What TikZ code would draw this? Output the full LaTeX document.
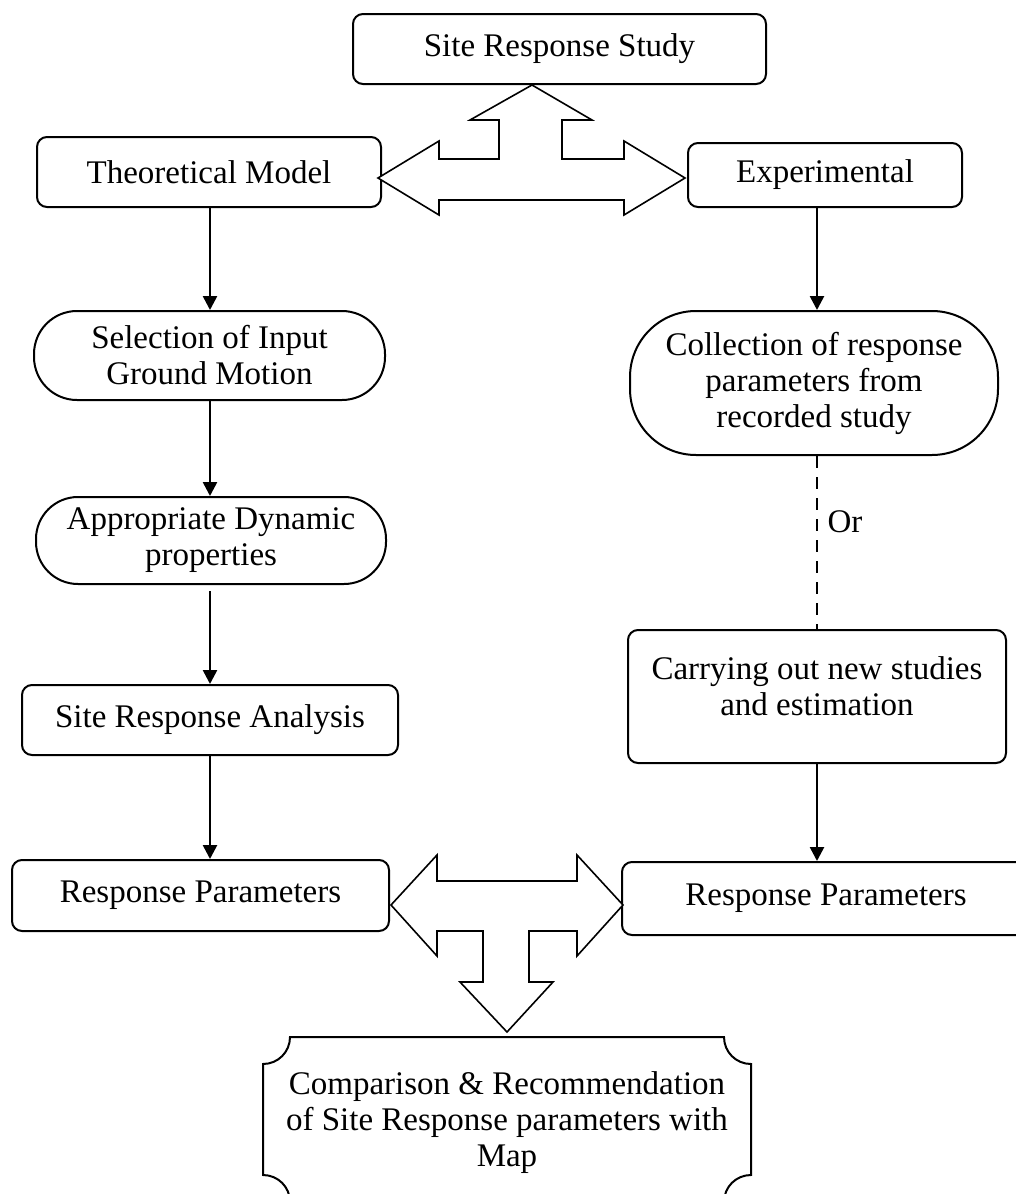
\documentclass[tikz,border=0pt]{standalone}
\usepackage{fontspec}
\setmainfont{Liberation Serif}
\usetikzlibrary{arrows.meta}
\begin{document}
\begin{tikzpicture}[x=0.5pt,y=-0.5pt,
  every node/.style={font=\fontsize{16.5}{18}\selectfont, align=center, inner sep=0pt},
  box/.style={draw, line width=1pt, rounded corners=5pt},
  pill/.style={draw, line width=1pt, rounded corners=#1},
  flow/.style={-{Triangle[length=7pt,width=7pt]}, line width=1.3pt},
  blockarrow/.style={draw, fill=white, line width=0.8pt, line join=miter},
]
\clip (0,0) rectangle (1016,1194);
\useasboundingbox (0,0) rectangle (1016,1194);

% top level
\node[box, minimum width=206.5pt, minimum height=35pt] (srs) at (559.5,49) {Site Response Study};
\node[box, minimum width=172pt, minimum height=35pt] (tm) at (209,172) {Theoretical Model};
\node[box, minimum width=137pt, minimum height=32pt] (ex) at (825,175) {Experimental};

% theoretical branch
\node[pill=21.5pt, minimum width=175.5pt, minimum height=44.5pt] (sel) at (209.5,355.5) {Selection of Input\\Ground Motion};
\node[pill=21pt, minimum width=175pt, minimum height=43.5pt] (app) at (211,540.5) {Appropriate Dynamic\\properties};
\node[box, minimum width=188pt, minimum height=35pt] (sra) at (210,720) {Site Response Analysis};
\node[box, minimum width=188.5pt, minimum height=35.5pt] (rpl) at (200.5,895.5) {Response Parameters};

% experimental branch
\node[pill=33pt, minimum width=184pt, minimum height=72pt] (col) at (814,383) {Collection of response\\parameters from\\recorded study};
\node[box, minimum width=189pt, minimum height=66.5pt] (car) at (817,696.5) {};
\node (cartext) at (817,686) {Carrying out new studies\\and estimation};
\node[box, minimum width=204pt, minimum height=36.5pt] (rpr) at (826,898.5) {Response Parameters};

% flow arrows (vertical, one x per column)
\coordinate (lx) at (210,0);
\coordinate (rx) at (817,0);
\draw[flow] (tm.south -| lx) -- (sel.north -| lx);
\draw[flow] (sel.south -| lx) -- (app.north -| lx);
\draw[flow] ([yshift=-3pt]app.south -| lx) -- (sra.north -| lx);
\draw[flow] (sra.south -| lx) -- (rpl.north -| lx);
\draw[flow] (ex.south -| rx) -- (col.north -| rx);
\draw[line width=1.4pt, dash pattern=on 6pt off 4.5pt] (col.south -| rx) -- (car.north -| rx);
\draw[flow] (car.south -| rx) -- (rpr.north -| rx);
\node (or) at (845,522) {Or};

% three-way block arrow at the top
\path[blockarrow] (532,85) -- (592,120) -- (562,120) -- (562,159) -- (624,159) -- (624,141)
  -- (685,178) -- (624,215) -- (624,200) -- (439,200) -- (439,215) -- (378,178)
  -- (439,141) -- (439,159) -- (499,159) -- (499,120) -- (470,120) -- cycle;

% three-way block arrow at the bottom
\path[blockarrow] (391,905) -- (437,855) -- (437,881) -- (577,881) -- (577,855) -- (623,905)
  -- (577,956) -- (577,931) -- (529,931) -- (529,982) -- (553,982) -- (507,1032)
  -- (460,982) -- (483,982) -- (483,931) -- (437,931) -- (437,956) -- cycle;

% final plaque with concave corners
\node (cmp) at (507,1123) {Comparison \& Recommendation\\of Site Response parameters with\\Map};
\draw[line width=1pt] (290,1037) -- (724,1037) .. controls (724,1052) and (736,1064) .. (751,1064)
  -- (751,1175) .. controls (736,1175) and (724,1187) .. (724,1202)
  -- (290,1202) .. controls (290,1187) and (278,1175) .. (263,1175)
  -- (263,1064) .. controls (278,1064) and (290,1052) .. (290,1037) -- cycle;
\end{tikzpicture}
\end{document}
